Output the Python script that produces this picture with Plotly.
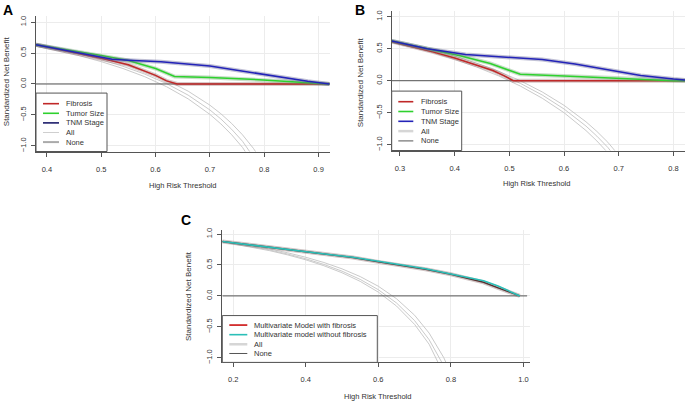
import plotly.graph_objects as go

W, H = 685, 404

# ---------------- Panel A data ----------------
a_fib_x = [0.38, 0.44, 0.50, 0.55, 0.60, 0.62, 0.64, 0.70, 0.80, 0.92]
a_fib_y = [0.635, 0.525, 0.415, 0.31, 0.14, 0.05, 0.0, 0.0, 0.0, 0.0]
a_tum_x = [0.38, 0.44, 0.50, 0.55, 0.60, 0.635, 0.70, 0.79, 0.87, 0.92]
a_tum_y = [0.635, 0.55, 0.46, 0.38, 0.25, 0.12, 0.105, 0.07, 0.03, 0.0]
a_tnm_x = [0.38, 0.44, 0.52, 0.55, 0.61, 0.70, 0.80, 0.88, 0.92]
a_tnm_y = [0.635, 0.53, 0.40, 0.385, 0.36, 0.29, 0.15, 0.045, 0.0]
a_all_x = [0.38, 0.42, 0.46, 0.50, 0.54, 0.58, 0.62, 0.66, 0.70, 0.72, 0.74, 0.76, 0.78, 0.80]
a_all_lo = [0.608, 0.537, 0.456, 0.361, 0.250, 0.118, -0.043, -0.240, -0.491, -0.643, -0.819, -1.024, -1.266, -1.56]
a_all_mid = [0.627, 0.560, 0.482, 0.392, 0.286, 0.160, 0.008, -0.180, -0.419, -0.563, -0.731, -0.925, -1.156, -1.43]
a_all_hi = [0.648, 0.584, 0.510, 0.425, 0.325, 0.206, 0.062, -0.116, -0.342, -0.479, -0.637, -0.821, -1.039, -1.30]
a_none_x = [0.38, 0.92]
a_none_y = [0.0, 0.0]
a_xticks = [0.4, 0.5, 0.6, 0.7, 0.8, 0.9]

# ---------------- Panel B data ----------------
b_fib_x = [0.285, 0.32, 0.36, 0.40, 0.44, 0.47, 0.49, 0.507, 0.60, 0.70, 0.821]
b_fib_y = [0.61, 0.54, 0.45, 0.355, 0.245, 0.16, 0.08, 0.0, 0.0, 0.0, 0.0]
b_tum_x = [0.285, 0.35, 0.41, 0.465, 0.52, 0.60, 0.70, 0.77, 0.80, 0.821]
b_tum_y = [0.62, 0.50, 0.39, 0.27, 0.10, 0.075, 0.035, 0.01, 0.0, 0.0]
b_tnm_x = [0.285, 0.35, 0.42, 0.50, 0.56, 0.62, 0.68, 0.74, 0.80, 0.821]
b_tnm_y = [0.62, 0.50, 0.41, 0.36, 0.33, 0.26, 0.17, 0.08, 0.025, 0.01]
b_all_x = [0.285, 0.32, 0.36, 0.40, 0.44, 0.48, 0.52, 0.56, 0.60, 0.64, 0.66, 0.68, 0.70, 0.72]
b_all_lo = [0.601, 0.529, 0.438, 0.333, 0.214, 0.077, -0.083, -0.273, -0.500, -0.778, -0.941, -1.125, -1.333, -1.571]
b_all_mid = [0.617, 0.548, 0.459, 0.359, 0.245, 0.113, -0.041, -0.223, -0.442, -0.708, -0.866, -1.042, -1.242, -1.47]
b_all_hi = [0.632, 0.566, 0.481, 0.385, 0.275, 0.148, 0.0, -0.175, -0.385, -0.641, -0.792, -0.961, -1.154, -1.37]
b_none_x = [0.285, 0.821]
b_none_y = [0.0, 0.0]
b_xticks = [0.3, 0.4, 0.5, 0.6, 0.7, 0.8]

# ---------------- Panel C data ----------------
c_mod_x = [0.17, 0.25, 0.33, 0.40, 0.47, 0.53, 0.60, 0.67, 0.73, 0.80, 0.85, 0.89, 0.93, 0.96, 0.99]
c_with_y = [0.88, 0.82, 0.76, 0.71, 0.66, 0.62, 0.55, 0.49, 0.43, 0.35, 0.28, 0.22, 0.13, 0.06, 0.0]
c_without_y = [0.88, 0.82, 0.765, 0.715, 0.665, 0.625, 0.555, 0.495, 0.44, 0.36, 0.30, 0.245, 0.16, 0.08, 0.0]
c_all_x = [0.17, 0.25, 0.30, 0.35, 0.40, 0.45, 0.50, 0.55, 0.60, 0.65, 0.70, 0.74, 0.78, 0.80]
c_all_lo = [0.872, 0.791, 0.732, 0.663, 0.583, 0.488, 0.374, 0.235, 0.061, -0.163, -0.461, -0.782, -1.219, -1.50]
c_all_mid = [0.877, 0.800, 0.743, 0.677, 0.600, 0.509, 0.400, 0.267, 0.100, -0.114, -0.400, -0.708, -1.127, -1.40]
c_all_hi = [0.885, 0.8125, 0.759, 0.697, 0.625, 0.540, 0.4375, 0.3125, 0.156, -0.045, -0.3125, -0.601, -0.994, -1.25]
c_none_x = [0.17, 1.01]
c_none_y = [0.0, 0.0]
c_xticks = [0.2, 0.4, 0.6, 0.8, 1.0]

y_ticks = [-1.0, -0.5, 0.0, 0.5, 1.0]

# colours
RED = "#C02828"
GREEN = "#2ED12E"
BLUE = "#2323B8"
RED_C = "#CC1111"
TEAL = "#2BBFB8"
ALLC = "#C4C4C4"
NONEC = "#555555"
FONT = "Liberation Sans, Arial, sans-serif"

fig = go.Figure()


def band_line(x, y, color, band, xa, ya):
    fig.add_trace(go.Scatter(x=x, y=y, mode="lines", line=dict(color=band, width=4),
                             xaxis=xa, yaxis=ya, showlegend=False, hoverinfo="skip"))
    fig.add_trace(go.Scatter(x=x, y=y, mode="lines", line=dict(color=color, width=1.5),
                             xaxis=xa, yaxis=ya, showlegend=False))


def all_lines(x, ys, xa, ya):
    for yy in ys:
        fig.add_trace(go.Scatter(x=x, y=yy, mode="lines", line=dict(color=ALLC, width=0.9),
                                 xaxis=xa, yaxis=ya, showlegend=False))


def none_line(x, y, xa, ya):
    fig.add_trace(go.Scatter(x=x, y=y, mode="lines", line=dict(color=NONEC, width=1),
                             xaxis=xa, yaxis=ya, showlegend=False))


# Panel A
all_lines(a_all_x, [a_all_lo, a_all_mid, a_all_hi], "x", "y")
none_line(a_none_x, a_none_y, "x", "y")
band_line(a_fib_x, a_fib_y, RED, "rgba(150,100,100,0.35)", "x", "y")
band_line(a_tum_x, a_tum_y, GREEN, "rgba(100,160,100,0.35)", "x", "y")
band_line(a_tnm_x, a_tnm_y, BLUE, "rgba(100,100,150,0.40)", "x", "y")

# Panel B
all_lines(b_all_x, [b_all_lo, b_all_mid, b_all_hi], "x2", "y2")
none_line(b_none_x, b_none_y, "x2", "y2")
band_line(b_fib_x, b_fib_y, RED, "rgba(150,100,100,0.35)", "x2", "y2")
band_line(b_tum_x, b_tum_y, GREEN, "rgba(100,160,100,0.35)", "x2", "y2")
band_line(b_tnm_x, b_tnm_y, BLUE, "rgba(100,100,150,0.40)", "x2", "y2")

# Panel C
all_lines(c_all_x, [c_all_lo, c_all_mid, c_all_hi], "x3", "y3")
none_line(c_none_x, c_none_y, "x3", "y3")
band_line(c_mod_x, c_with_y, "#5A3030", "rgba(120,90,90,0.35)", "x3", "y3")
fig.add_trace(go.Scatter(x=c_mod_x, y=c_without_y, mode="lines", line=dict(color=TEAL, width=1.6),
                         xaxis="x3", yaxis="y3", showlegend=False))


def px2paper_x(p):
    return p / W


def px2paper_y(p):
    return 1 - p / H


axis_common = dict(showgrid=True, gridcolor="#ECECEC", gridwidth=1, zeroline=False,
                   showline=True, linecolor="#555555", linewidth=1,
                   ticks="outside", ticklen=4, tickcolor="#555555", tickwidth=1,
                   tickfont=dict(family=FONT, size=7.5, color="#333333"))
xa_extra = dict(tickformat=".1f", ticklabelstandoff=6)
ya_extra = dict(tickvals=y_ticks, tickformat=".1f", tickangle=-90, ticklabelstandoff=2)

fig.update_layout(
    width=W, height=H, margin=dict(l=0, r=0, t=0, b=0),
    paper_bgcolor="white", plot_bgcolor="white", showlegend=False,
    xaxis=dict(domain=[px2paper_x(36), px2paper_x(330)], range=[0.38, 0.921], anchor="y",
               tickvals=a_xticks, **xa_extra, **axis_common),
    yaxis=dict(domain=[px2paper_y(151), px2paper_y(14)], range=[-1.09, 1.1], anchor="x",
               **ya_extra, **axis_common),
    xaxis2=dict(domain=[px2paper_x(391.7), 1.0], range=[0.285, 0.821], anchor="y2",
                tickvals=b_xticks, **xa_extra, **axis_common),
    yaxis2=dict(domain=[px2paper_y(150), px2paper_y(9)], range=[-1.09, 1.09], anchor="x2",
                **ya_extra, **axis_common),
    xaxis3=dict(domain=[px2paper_x(222.3), px2paper_x(530)], range=[0.17, 1.018], anchor="y3",
                tickvals=c_xticks, **xa_extra, **axis_common),
    yaxis3=dict(domain=[px2paper_y(364), px2paper_y(230)], range=[-1.075, 1.07], anchor="x3",
                **ya_extra, **axis_common),
)

annotations = []
shapes = []


def text_px(x, y, s, size=7.5, xanchor="center", angle=0, bold=False, color="#333333"):
    annotations.append(dict(x=px2paper_x(x), y=px2paper_y(y), xref="paper", yref="paper",
                            text=("<b>%s</b>" % s) if bold else s, showarrow=False,
                            xanchor=xanchor, yanchor="middle", textangle=angle,
                            font=dict(family=FONT, size=size, color=color)))


# panel letters
text_px(8, 8, "A", size=14, bold=True, color="black")
text_px(360, 8, "B", size=14, bold=True, color="black")
text_px(186, 220, "C", size=14, bold=True, color="black")

# axis titles
for (xt, yt) in [(182.7, 185), (536.7, 183), (377, 398)]:
    text_px(xt, yt, "High Risk Threshold")
for (xt, yt) in [(6, 80), (360, 81), (188.3, 296.7)]:
    text_px(xt, yt, "Standardized Net Benefit", size=8, angle=-90)


def legend(box, items, x_line, x_text, ys):
    x0, y0, x1, y1 = box
    shapes.append(dict(type="rect", xref="paper", yref="paper",
                       x0=px2paper_x(x0), x1=px2paper_x(x1), y0=px2paper_y(y1), y1=px2paper_y(y0),
                       line=dict(color="#555555", width=1), fillcolor="white", layer="above"))
    for (label, col, wd), yy in zip(items, ys):
        shapes.append(dict(type="line", xref="paper", yref="paper",
                           x0=px2paper_x(x_line[0]), x1=px2paper_x(x_line[1]),
                           y0=px2paper_y(yy), y1=px2paper_y(yy),
                           line=dict(color=col, width=wd), layer="above"))
        text_px(x_text, yy, label, xanchor="left")


legend((36, 92, 107, 151),
       [("Fibrosis", RED, 1.6), ("Tumor Size", GREEN, 1.6), ("TNM Stage", "#1C1C6A", 1.6),
        ("All", "#CFCFCF", 1), ("None", "#AAAAAA", 2)],
       (43, 59), 63.5, [102.7, 112.4, 122.1, 131.8, 141.5])
legend((391.7, 90, 461.7, 150),
       [("Fibrosis", RED, 1.6), ("Tumor Size", GREEN, 1.6), ("TNM Stage", BLUE, 1.6),
        ("All", "#D6D6D6", 2.5), ("None", "#555555", 1)],
       (398.3, 413.3), 419, [100.7, 110.6, 120.5, 130.4, 140.3])
legend((222.3, 316.7, 377.3, 364),
       [("Multivariate Model with fibrosis", RED_C, 1.6),
        ("Multivariate model without fibrosis", TEAL, 1.6),
        ("All", "#D6D6D6", 2.5), ("None", "#555555", 1)],
       (229.3, 247.3), 252.3, [326.3, 336, 345.7, 355])

fig.update_layout(annotations=annotations, shapes=shapes)

fig.write_html("out.html", config={"displayModeBar": False},
               post_script="document.body.style.margin='0px';document.body.style.padding='0px';")
